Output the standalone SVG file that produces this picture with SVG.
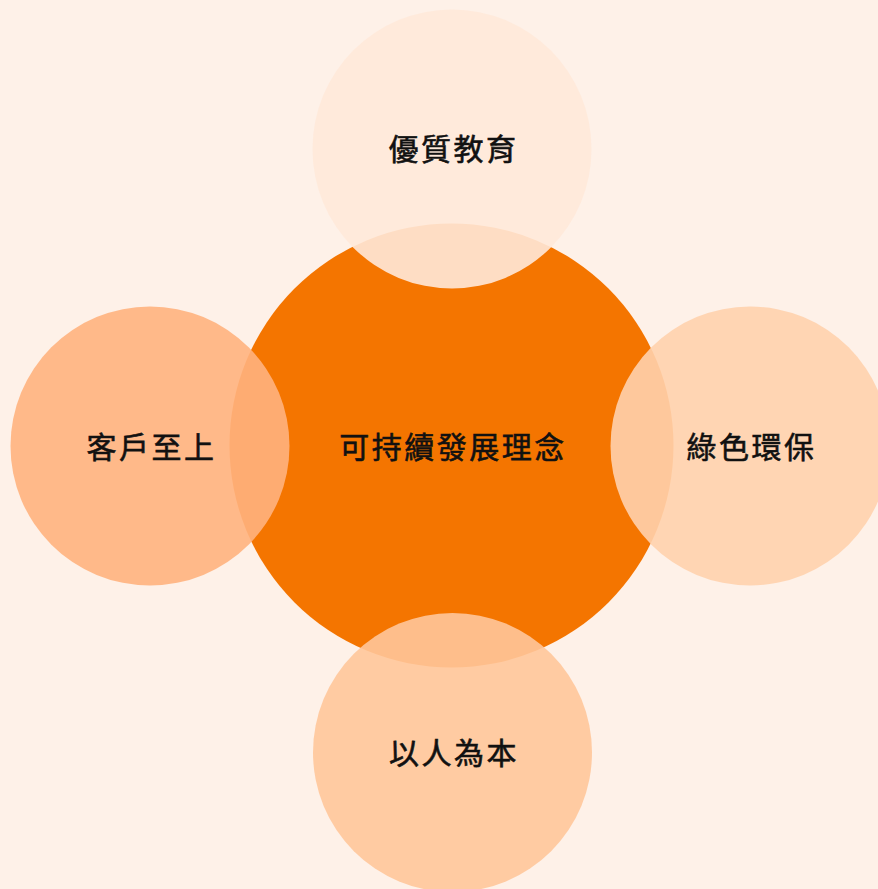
<svg xmlns="http://www.w3.org/2000/svg" width="878" height="889" viewBox="0 0 878 889">
<style>
.lbl{font-family:"Noto Sans CJK TC","Noto Sans CJK SC",sans-serif;font-size:30px;font-weight:400;letter-spacing:2.5px;fill:#111;stroke:#111;stroke-width:0.6px;text-anchor:middle;dominant-baseline:central}
.sat{opacity:0.9}
</style>
<rect width="878" height="889" fill="#FEF1E8"/>
<g id="connectors"></g>
<g id="center">
<circle cx="451.5" cy="445.5" r="222" fill="#F47500"/>
<text class="lbl" x="453" y="445">可持續發展理念</text>
</g>
<g id="top">
<circle class="sat" cx="452" cy="149" r="139.5" fill="#FFE9D9"/>
<text class="lbl" x="453.5" y="147">優質教育</text>
</g>
<g id="left">
<circle class="sat" cx="150" cy="446" r="139.5" fill="#FFB37E"/>
<text class="lbl" x="151.5" y="445">客戶至上</text>
</g>
<g id="right">
<circle class="sat" cx="750" cy="446" r="139.5" fill="#FFD1AD"/>
<text class="lbl" x="751.5" y="445">綠色環保</text>
</g>
<g id="bottom">
<circle class="sat" cx="452.5" cy="752.5" r="139.5" fill="#FFC69A"/>
<text class="lbl" x="454" y="751">以人為本</text>
</g>
</svg>
